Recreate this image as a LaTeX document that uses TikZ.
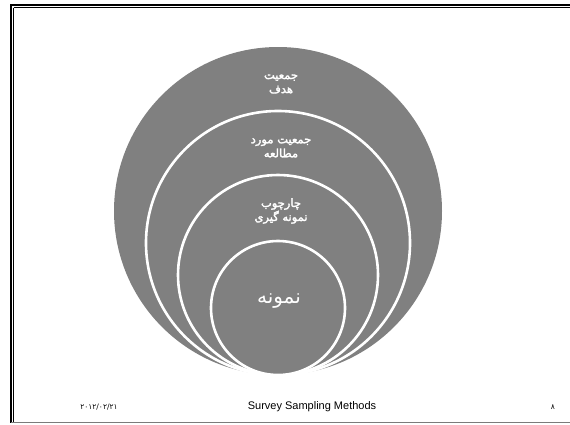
\documentclass[tikz,border=0pt]{standalone}
\usepackage{fontspec}
\setmainfont{Liberation Sans}
\newfontfamily\arabicfont[Script=Arabic]{DejaVu Sans}
\newfontfamily\arabicbold[Script=Arabic,FakeBold=2.5]{DejaVu Sans}
\TeXXeTstate=1
\definecolor{disk}{HTML}{808080}
\definecolor{shade}{HTML}{9A9A9A}
\tikzset{
  disc/.style={circle, fill=disk, inner sep=0pt, outer sep=0pt},
  ring/.style={disc, draw=white, line width=2.6pt},
  lbl/.style={text=white, align=center, font=\arabicbold\fontsize{11.5}{14}\selectfont},
  foot/.style={text=black, font=\fontsize{11}{13}\selectfont},
}
\begin{document}
\begin{tikzpicture}[x=1pt,y=-1pt]
\useasboundingbox (0,0) rectangle (570,424);
\fill[white] (0,0) rectangle (570,424);
% slide frame
\draw[shade, line width=1pt] (13.5,7.5) -- (570,7.5);
\draw[shade, line width=1pt] (13.5,7.5) -- (13.5,422);
\draw[black, line width=2pt] (10.5,5) -- (570,5);
\draw[black, line width=2.6pt] (11,4) -- (11,423);
\draw[shade!80!black, line width=1.5pt] (11,422.5) -- (570,422.5);
% nested circles, all touching at the bottom
\node[disc, minimum size=328pt] (c1) at (278,211) {};
\node[ring, minimum size=264pt] (c2) at (278,243) {};
\node[ring, minimum size=200pt] (c3) at (278,275) {};
\node[ring, minimum size=134pt] (c4) at (278,308) {};
% labels
\node[lbl] (t1) at (281,84) {\beginR جمعیت\endR\\\beginR هدف\endR};
\node[lbl] (t2) at (281,148) {\beginR جمعیت مورد\endR\\\beginR مطالعه\endR};
\node[lbl] (t3) at (281,211) {\beginR چارچوب\endR\\\beginR نمونه گیری\endR};
\node[text=white, font=\arabicfont\fontsize{20}{23}\selectfont] (t4) at (279,301) {\beginR نمونه\endR};
% footer
\node[foot, font=\arabicfont\fontsize{7.5}{9}\selectfont] (date) at (99,407) {۲۰۱۲/۰۲/۲۱};
\node[foot] (title) at (312,407) {Survey Sampling Methods};
\node[foot, font=\arabicfont\fontsize{7.5}{9}\selectfont] (page) at (553,407) {۸};
\end{tikzpicture}
\end{document}
